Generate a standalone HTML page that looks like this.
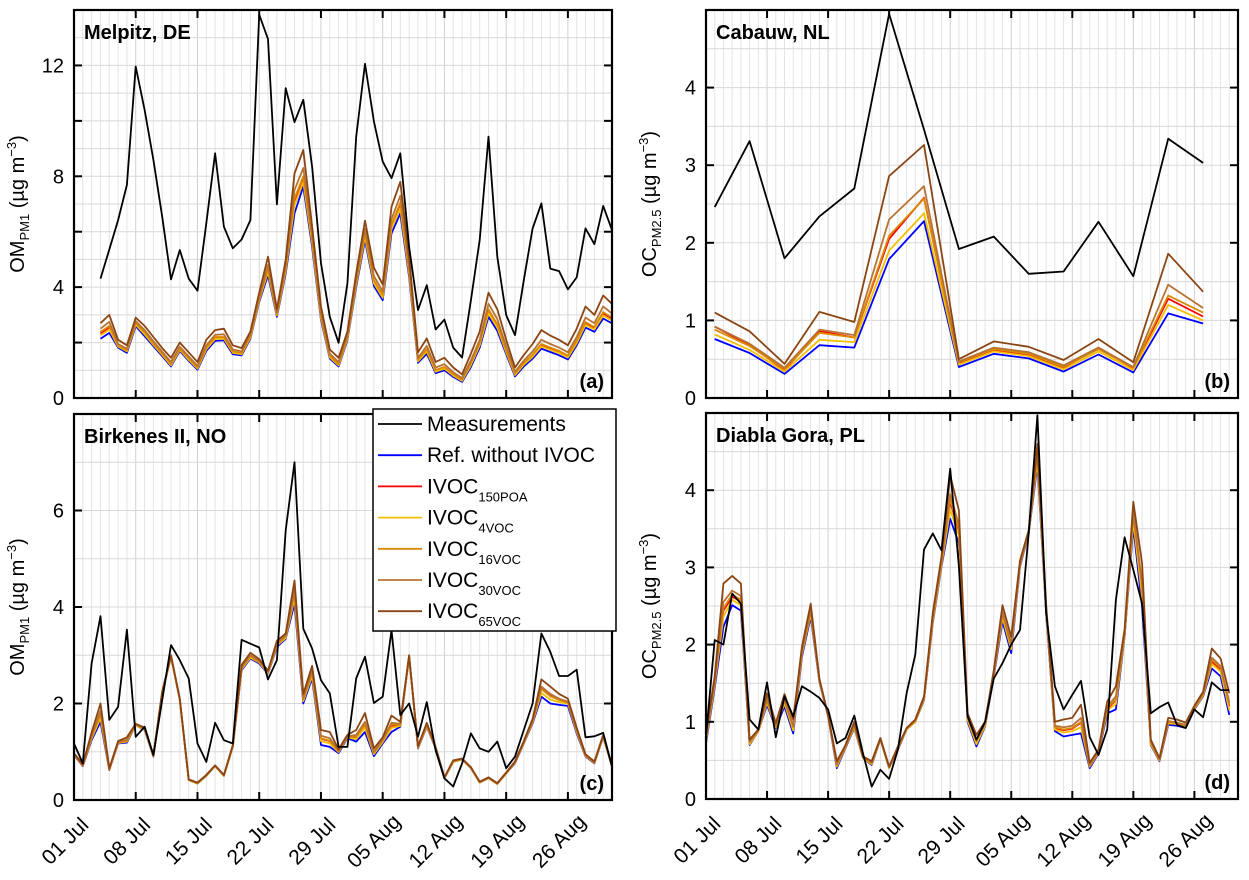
<!DOCTYPE html>
<html><head><meta charset="utf-8"><style>
html,body{margin:0;padding:0;background:#fff;}
svg{display:block;font-family:"Liberation Sans",sans-serif;}
</style></head><body>
<svg id="chart" width="1249" height="880" viewBox="0 0 1249 880" xmlns="http://www.w3.org/2000/svg"></svg>
<script>
// ---------- data ----------
const xTickLabels=["01 Jul","08 Jul","15 Jul","22 Jul","29 Jul","05 Aug","12 Aug","19 Aug","26 Aug"];
const seriesNames=["Ref. without IVOC","IVOC150POA","IVOC4VOC","IVOC16VOC","IVOC30VOC","IVOC65VOC"];
// Panel a (Melpitz) — days 3..61
const aMeasDay0=3;
const aMeas=[4.31,5.36,6.42,7.69,11.96,10.4,8.59,6.54,4.28,5.34,4.31,3.87,6.30,8.83,6.18,5.40,5.72,6.42,13.83,12.95,6.99,11.18,9.95,10.76,8.35,4.86,2.93,1.99,4.13,9.43,12.06,9.98,8.53,7.93,8.83,5.46,3.17,4.07,2.47,2.83,1.82,1.46,3.53,5.70,9.43,5.10,2.99,2.27,4.25,6.12,7.02,4.67,4.58,3.92,4.35,6.12,5.55,6.93,6.06];
const aRef=[2.14,2.35,1.82,1.63,2.59,2.23,1.87,1.51,1.14,1.70,1.34,1.02,1.70,2.06,2.08,1.58,1.54,2.14,3.47,4.43,2.93,4.49,6.66,7.63,5.46,2.81,1.42,1.14,2.08,4.01,5.70,4.04,3.53,5.94,6.66,4.37,1.27,1.60,0.90,1.00,0.76,0.58,1.12,1.82,2.93,2.42,1.58,0.78,1.14,1.42,1.78,1.66,1.54,1.39,1.90,2.54,2.39,2.87,2.69];
const a150=[2.33,2.55,1.88,1.7,2.68,2.35,1.95,1.58,1.2,1.76,1.4,1.08,1.8,2.17,2.18,1.66,1.6,2.2,3.55,4.6,3.0,4.63,7.1,7.95,5.7,2.92,1.5,1.2,2.15,4.15,5.9,4.2,3.68,6.2,6.95,4.55,1.35,1.72,0.98,1.09,0.84,0.64,1.22,1.95,3.15,2.6,1.7,0.86,1.23,1.53,1.9,1.78,1.66,1.5,2.02,2.7,2.52,3.05,2.85];
const a4=[2.26,2.47,1.86,1.68,2.65,2.3,1.92,1.56,1.18,1.74,1.38,1.06,1.76,2.13,2.14,1.63,1.58,2.18,3.52,4.55,2.98,4.58,6.95,7.8,5.6,2.88,1.47,1.18,2.12,4.1,5.82,4.14,3.62,6.1,6.85,4.48,1.32,1.68,0.95,1.06,0.81,0.62,1.19,1.9,3.06,2.54,1.65,0.83,1.2,1.49,1.86,1.74,1.62,1.46,1.98,2.64,2.47,2.98,2.79];
const a16=[2.38,2.6,1.9,1.72,2.7,2.38,1.97,1.6,1.23,1.78,1.43,1.1,1.82,2.2,2.2,1.68,1.62,2.22,3.57,4.65,3.02,4.67,7.2,8.0,5.75,2.95,1.52,1.22,2.17,4.18,5.95,4.25,3.72,6.25,7.05,4.6,1.38,1.76,1.01,1.12,0.86,0.66,1.26,1.98,3.2,2.66,1.73,0.88,1.26,1.57,1.95,1.82,1.7,1.53,2.07,2.74,2.56,3.1,2.9];
const a30=[2.5,2.75,1.95,1.78,2.78,2.45,2.05,1.67,1.3,1.85,1.5,1.16,1.9,2.28,2.3,1.75,1.68,2.3,3.65,4.8,3.1,4.8,7.5,8.3,5.9,3.05,1.6,1.3,2.25,4.3,6.1,4.4,3.85,6.45,7.3,4.75,1.45,1.88,1.1,1.22,0.93,0.72,1.36,2.1,3.4,2.85,1.85,0.95,1.35,1.68,2.1,1.95,1.82,1.65,2.2,2.9,2.7,3.3,3.05];
const a65=[2.7,3.0,2.1,1.9,2.9,2.6,2.2,1.8,1.45,2.0,1.65,1.3,2.1,2.45,2.5,1.9,1.8,2.4,3.8,5.1,3.2,5.0,8.1,8.95,6.2,3.3,1.75,1.45,2.4,4.5,6.4,4.7,4.1,6.9,7.8,5.1,1.65,2.15,1.3,1.45,1.1,0.85,1.6,2.4,3.8,3.2,2.1,1.1,1.55,1.95,2.45,2.25,2.1,1.9,2.5,3.3,3.0,3.7,3.4];
// Panel b (Cabauw) — days 1,5,9,...
const bDays=[1,5,9,13,17,21,25,29,33,37,41,45,49,53,57];
const bMeas=[2.46,3.31,1.80,2.34,2.70,4.95,3.46,1.92,2.08,1.60,1.63,2.27,1.57,3.34,3.03];
const bRef=[0.76,0.58,0.31,0.68,0.65,1.79,2.28,0.40,0.57,0.51,0.34,0.56,0.33,1.09,0.96];
const b150=[0.92,0.68,0.36,0.86,0.78,2.05,2.58,0.45,0.62,0.56,0.39,0.65,0.38,1.28,1.05];
const b4=[0.82,0.62,0.34,0.75,0.72,1.90,2.38,0.43,0.60,0.54,0.37,0.60,0.36,1.20,1.00];
const b16=[0.88,0.67,0.37,0.84,0.78,2.09,2.57,0.46,0.63,0.57,0.40,0.63,0.39,1.32,1.10];
const b30=[0.92,0.70,0.39,0.88,0.81,2.30,2.73,0.47,0.65,0.59,0.42,0.65,0.40,1.46,1.16];
const b65=[1.10,0.86,0.44,1.11,0.98,2.86,3.26,0.50,0.73,0.66,0.49,0.76,0.46,1.86,1.37];
// Panel c (Birkenes) — days 0..61
const cMeasDay0=0;
const cMeas=[1.17,0.76,2.83,3.81,1.66,1.93,3.53,1.31,1.52,0.93,2.07,3.21,2.90,2.52,1.17,0.79,1.60,1.24,1.17,3.32,3.24,3.16,2.50,2.90,5.59,7.0,3.55,3.14,2.48,2.21,1.10,1.10,2.52,2.97,2.01,2.14,3.52,1.76,2.0,1.31,2.03,1.03,0.45,0.28,0.76,1.38,1.07,1.0,1.21,0.66,0.90,1.45,2.0,3.45,3.07,2.57,2.57,2.70,1.30,1.32,1.39,0.69];
const cRef=[0.93,0.70,1.24,1.62,0.62,1.17,1.19,1.55,1.45,0.90,2.21,2.97,2.07,0.41,0.34,0.50,0.70,0.50,1.10,2.69,2.93,2.83,2.62,3.17,3.34,4.07,2.0,2.52,1.14,1.10,0.97,1.28,1.21,1.41,0.91,1.17,1.41,1.52,2.97,1.07,1.52,1.07,0.45,0.79,0.84,0.66,0.36,0.45,0.33,0.55,0.76,1.17,1.59,2.14,2.0,1.97,1.95,1.38,0.90,0.76,1.31,0.69];
const c150=[0.94,0.71,1.29,1.76,0.63,1.19,1.22,1.56,1.47,0.91,2.22,2.98,2.08,0.42,0.35,0.51,0.71,0.51,1.11,2.72,2.97,2.86,2.64,3.21,3.38,4.25,2.08,2.62,1.27,1.22,1.0,1.31,1.3,1.55,0.97,1.22,1.54,1.55,2.98,1.09,1.55,1.08,0.46,0.8,0.85,0.67,0.37,0.46,0.34,0.56,0.77,1.19,1.62,2.32,2.17,2.08,2.03,1.43,0.92,0.77,1.32,0.7];
const c4=[0.94,0.71,1.27,1.7,0.63,1.18,1.21,1.55,1.46,0.91,2.21,2.97,2.07,0.41,0.34,0.5,0.7,0.5,1.1,2.71,2.95,2.85,2.63,3.2,3.36,4.18,2.05,2.57,1.22,1.17,0.99,1.3,1.26,1.5,0.95,1.2,1.49,1.54,2.97,1.08,1.53,1.08,0.45,0.79,0.84,0.66,0.36,0.45,0.33,0.55,0.77,1.18,1.61,2.22,2.08,2.03,2.0,1.41,0.91,0.77,1.31,0.69];
const c16=[0.94,0.71,1.3,1.78,0.63,1.19,1.23,1.56,1.47,0.91,2.22,2.98,2.08,0.42,0.35,0.51,0.71,0.51,1.11,2.73,2.98,2.86,2.65,3.22,3.39,4.28,2.09,2.63,1.28,1.23,1.0,1.31,1.31,1.57,0.98,1.23,1.56,1.56,2.98,1.09,1.55,1.08,0.46,0.8,0.85,0.67,0.37,0.46,0.34,0.56,0.77,1.19,1.63,2.3,2.15,2.07,2.02,1.43,0.92,0.77,1.32,0.7];
const c30=[0.95,0.72,1.33,1.85,0.64,1.2,1.25,1.57,1.48,0.92,2.23,2.99,2.09,0.42,0.35,0.51,0.71,0.51,1.12,2.75,3.0,2.88,2.66,3.25,3.41,4.35,2.12,2.67,1.33,1.28,1.02,1.32,1.35,1.62,1.0,1.25,1.6,1.58,2.99,1.1,1.57,1.09,0.46,0.81,0.85,0.67,0.37,0.46,0.34,0.56,0.78,1.2,1.64,2.35,2.2,2.1,2.04,1.45,0.93,0.78,1.33,0.7];
const c65=[0.97,0.74,1.4,2.0,0.66,1.22,1.3,1.58,1.5,0.93,2.25,3.0,2.1,0.43,0.36,0.52,0.72,0.52,1.14,2.8,3.05,2.92,2.68,3.3,3.45,4.55,2.2,2.78,1.45,1.41,1.05,1.35,1.45,1.8,1.07,1.3,1.75,1.62,3.0,1.12,1.6,1.1,0.47,0.82,0.86,0.68,0.38,0.47,0.35,0.57,0.8,1.22,1.68,2.5,2.35,2.2,2.1,1.5,0.95,0.8,1.35,0.71];
// Panel d (Diabla Gora) — days 0..60
const dMeasDay0=0;
const dMeas=[0.81,2.06,2.0,2.66,2.53,1.03,0.90,1.51,0.80,1.33,1.07,1.46,1.39,1.31,1.16,0.72,0.79,1.08,0.59,0.16,0.38,0.26,0.64,1.37,1.87,3.23,3.44,3.22,4.28,3.01,1.07,0.77,1.0,1.56,1.76,2.0,2.19,3.44,4.97,2.41,1.46,1.16,1.35,1.53,0.80,0.57,0.90,2.58,3.39,2.97,2.53,1.11,1.19,1.25,0.96,0.92,1.16,1.06,1.51,1.41,1.41];
const dRef=[0.72,1.44,2.23,2.51,2.44,0.70,0.88,1.22,0.92,1.20,0.85,1.84,2.36,1.52,1.07,0.40,0.66,0.92,0.53,0.44,0.77,0.40,0.64,0.90,1.0,1.28,2.28,3.01,3.63,3.31,1.0,0.68,0.94,1.59,2.30,1.89,3.01,3.44,4.32,2.41,0.88,0.81,0.83,0.85,0.40,0.59,1.11,1.16,2.10,3.53,2.49,0.70,0.49,0.96,0.95,0.92,1.16,1.33,1.69,1.59,1.09];
const d150=[0.77,1.5,2.44,2.62,2.56,0.72,0.88,1.27,0.94,1.26,0.92,1.89,2.42,1.53,1.08,0.44,0.67,0.94,0.54,0.46,0.78,0.41,0.65,0.91,1.01,1.3,2.32,3.05,3.85,3.47,1.04,0.74,0.96,1.62,2.38,1.97,3.04,3.46,4.43,2.46,0.92,0.89,0.91,0.99,0.43,0.61,1.17,1.28,2.12,3.66,2.72,0.72,0.5,0.99,0.98,0.95,1.18,1.35,1.78,1.68,1.2];
const d4=[0.75,1.48,2.36,2.58,2.51,0.71,0.88,1.25,0.93,1.24,0.89,1.87,2.4,1.53,1.08,0.42,0.67,0.93,0.53,0.45,0.77,0.4,0.65,0.9,1.0,1.29,2.3,3.03,3.75,3.41,1.02,0.71,0.95,1.61,2.35,1.94,3.03,3.45,4.38,2.44,0.9,0.86,0.88,0.93,0.42,0.6,1.15,1.23,2.11,3.6,2.62,0.71,0.5,0.98,0.97,0.94,1.17,1.34,1.75,1.65,1.15];
const d16=[0.78,1.51,2.47,2.65,2.58,0.73,0.89,1.28,0.94,1.27,0.93,1.9,2.43,1.54,1.08,0.44,0.68,0.95,0.54,0.46,0.78,0.41,0.66,0.91,1.01,1.3,2.33,3.06,3.88,3.5,1.05,0.75,0.97,1.62,2.4,1.98,3.04,3.46,4.45,2.47,0.93,0.9,0.92,1.0,0.43,0.61,1.18,1.29,2.13,3.68,2.74,0.73,0.51,1.0,0.98,0.95,1.18,1.35,1.8,1.7,1.22];
const d30=[0.8,1.53,2.55,2.7,2.63,0.74,0.89,1.3,0.95,1.29,0.95,1.91,2.45,1.54,1.08,0.45,0.68,0.96,0.54,0.47,0.78,0.41,0.66,0.91,1.02,1.31,2.35,3.08,3.95,3.55,1.06,0.76,0.97,1.63,2.42,2.01,3.05,3.46,4.48,2.48,0.95,0.93,0.95,1.05,0.44,0.62,1.2,1.33,2.15,3.72,2.8,0.74,0.51,1.01,0.99,0.96,1.19,1.36,1.83,1.72,1.25];
const d65=[0.85,1.59,2.79,2.89,2.79,0.77,0.9,1.37,0.98,1.36,1.03,1.97,2.53,1.56,1.09,0.49,0.70,1.0,0.55,0.49,0.79,0.42,0.68,0.92,1.03,1.33,2.41,3.14,4.19,3.74,1.11,0.83,1.0,1.67,2.51,2.10,3.09,3.48,4.60,2.53,1.0,1.03,1.05,1.22,0.47,0.64,1.26,1.46,2.2,3.85,3.05,0.77,0.53,1.05,1.03,0.99,1.21,1.39,1.95,1.82,1.37];

// ---------- drawing ----------
const NS="http://www.w3.org/2000/svg";
const svg=document.getElementById('chart');
const COLORS=["#0000ff","#ff0000","#f5bf00","#d98a00","#b87333","#8b4513"];
function mk(tag,attrs,parent){const e=document.createElementNS(NS,tag);for(const k in attrs)e.setAttribute(k,attrs[k]);(parent||svg).appendChild(e);return e;}
const DAYS=61;

function panel(p){
  const g=mk('g',{});
  
  
  const X=d=>p.x0+(p.x1-p.x0)*d/DAYS;
  const Y=v=>p.y1-(p.y1-p.y0)*v/p.ymax;
  const grid=mk('g',{},g);
  
  
  for(let d=1;d<DAYS;d++){
    mk('line',{x1:X(d),x2:X(d),y1:p.y0,y2:p.y1,stroke:(d%7===0)?'#d0d0d0':'#e4e4e4','stroke-width':1},grid);
  }
  for(let v=p.gstep;v<p.ymax-1e-6;v+=p.gstep){
    mk('line',{x1:p.x0,x2:p.x1,y1:Y(v),y2:Y(v),stroke:'#d8d8d8','stroke-width':1},grid);
  }
  const days=p.mdays;
  const series=[p.ref,p.s150,p.s4,p.s16,p.s30,p.s65];
  series.forEach((arr,i)=>{
    const pts=arr.map((v,k)=>X(days(k)).toFixed(1)+','+Y(v).toFixed(1)).join(' ');
    const pl=mk('polyline',{points:pts,fill:'none',stroke:COLORS[i],'stroke-width':1.8,'stroke-linejoin':'round'},g);
    
    
  });
  const mpts=p.meas.map((v,k)=>X(p.measDays(k)).toFixed(1)+','+Y(v).toFixed(1)).join(' ');
  const ml=mk('polyline',{points:mpts,fill:'none',stroke:'#000','stroke-width':1.8,'stroke-linejoin':'round'},g);
  
  
  const fr=mk('rect',{x:p.x0,y:p.y0,width:p.x1-p.x0,height:p.y1-p.y0,fill:'none',stroke:'#000','stroke-width':2.2},g);
  
  
  for(let w=0;w<=8;w++){
    const x=X(w*7);
    mk('line',{x1:x,x2:x,y1:p.y1,y2:p.y1-8,stroke:'#000','stroke-width':2},g);
    mk('line',{x1:x,x2:x,y1:p.y0,y2:p.y0+8,stroke:'#000','stroke-width':2},g);
    if(p.xlabels){
      const t=mk('text',{x:x-4,y:p.y1+46,'font-size':21,'text-anchor':'middle',transform:`rotate(-45 ${x-4} ${p.y1+46})`},g);
      t.textContent=xTickLabels[w];
      
      
    }
  }
  for(let v=0;v<=p.ymax+1e-6;v+=p.tstep){
    const y=Y(v);
    mk('line',{x1:p.x0,x2:p.x0+8,y1:y,y2:y,stroke:'#000','stroke-width':2},g);
    mk('line',{x1:p.x1,x2:p.x1-8,y1:y,y2:y,stroke:'#000','stroke-width':2},g);
  }
  p.ylabels.forEach(v=>{
    const t=mk('text',{x:p.x0-10,y:Y(v)+7,'font-size':20,'text-anchor':'end'},g);
    t.textContent=String(v);
    
    
  });
  const cy=(p.y0+p.y1)/2, tx=p.x0-50;
  const yt=mk('text',{x:tx,y:cy,'font-size':20,'text-anchor':'middle',transform:`rotate(-90 ${tx} ${cy})`},g);
  
  
  yt.innerHTML=`${p.yt}<tspan font-size="13" dy="5">${p.ysub}</tspan><tspan dy="-5"> (µg m</tspan><tspan font-size="13" dy="-8">−3</tspan><tspan dy="8">)</tspan>`;
  const st=mk('text',{x:p.x0+10,y:p.y0+29,'font-size':20,'font-weight':'bold'},g);
  st.textContent=p.name;
  
  
  const lt=mk('text',{x:p.x1-8,y:p.y1-10,'font-size':20,'font-weight':'bold','text-anchor':'end'},g);
  lt.textContent=p.tag;
  
  
}

panel({id:'melpitz',name:'Melpitz, DE',tag:'(a)',x0:74,x1:612,y0:10,y1:398,ymax:14,gstep:1,tstep:2,ylabels:[0,4,8,12],yt:'OM',ysub:'PM1',
  meas:aMeas,measDays:k=>aMeasDay0+k,mdays:k=>aMeasDay0+k,ref:aRef,s150:a150,s4:a4,s16:a16,s30:a30,s65:a65,xlabels:false});
panel({id:'cabauw',name:'Cabauw, NL',tag:'(b)',x0:706,x1:1238,y0:10,y1:398,ymax:5,gstep:0.5,tstep:1,ylabels:[0,1,2,3,4],yt:'OC',ysub:'PM2.5',
  meas:bMeas,measDays:k=>bDays[k],mdays:k=>bDays[k],ref:bRef,s150:b150,s4:b4,s16:b16,s30:b30,s65:b65,xlabels:false});
panel({id:'birkenes',name:'Birkenes II, NO',tag:'(c)',x0:74,x1:612,y0:414,y1:800,ymax:8,gstep:1,tstep:2,ylabels:[0,2,4,6],yt:'OM',ysub:'PM1',
  meas:cMeas,measDays:k=>cMeasDay0+k,mdays:k=>cMeasDay0+k,ref:cRef,s150:c150,s4:c4,s16:c16,s30:c30,s65:c65,xlabels:true});
panel({id:'diabla-gora',name:'Diabla Gora, PL',tag:'(d)',x0:706,x1:1238,y0:413,y1:799,ymax:5,gstep:0.5,tstep:1,ylabels:[0,1,2,3,4],yt:'OC',ysub:'PM2.5',
  meas:dMeas,measDays:k=>dMeasDay0+k,mdays:k=>dMeasDay0+k,ref:dRef,s150:d150,s4:d4,s16:d16,s30:d30,s65:d65,xlabels:true});

const lg=mk('g',{});


mk('rect',{x:373,y:409,width:243,height:222,fill:'#fff',stroke:'#000','stroke-width':1.5},lg);
const legItems=[["Measurements","",'#000'],["Ref. without IVOC","",COLORS[0]],["IVOC","150POA",COLORS[1]],["IVOC","4VOC",COLORS[2]],["IVOC","16VOC",COLORS[3]],["IVOC","30VOC",COLORS[4]],["IVOC","65VOC",COLORS[5]]];
legItems.forEach((it,i)=>{
  const y=424+i*31.2;
  const e=mk('g',{},lg);
  
  
  mk('line',{x1:378,x2:422,y1:y,y2:y,stroke:it[2],'stroke-width':1.8},e);
  const t=mk('text',{x:427,y:y+7,'font-size':21},e);
  t.innerHTML=it[0]+(it[1]?`<tspan font-size="13" dy="8">${it[1]}</tspan>`:'');
});
</script>
</body></html>
